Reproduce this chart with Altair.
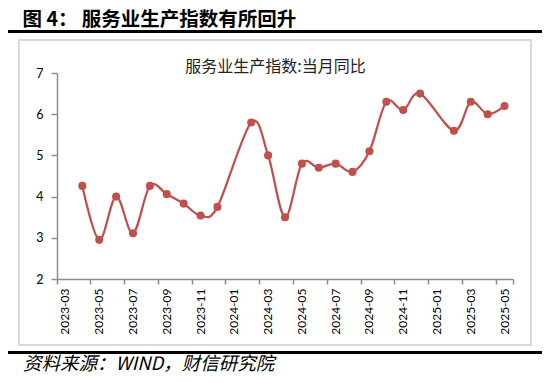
import altair as alt
import pandas as pd

# ---- data ----
all_months = [
    "2023-03", "2023-04", "2023-05", "2023-06", "2023-07", "2023-08", "2023-09",
    "2023-10", "2023-11", "2023-12", "2024-01", "2024-02", "2024-03", "2024-04",
    "2024-05", "2024-06", "2024-07", "2024-08", "2024-09", "2024-10", "2024-11",
    "2024-12", "2025-01", "2025-02", "2025-03", "2025-04", "2025-05",
]
obs_months = [
    "2023-04", "2023-05", "2023-06", "2023-07", "2023-08", "2023-09", "2023-10",
    "2023-11", "2023-12", "2024-02", "2024-03", "2024-04", "2024-05", "2024-06",
    "2024-07", "2024-08", "2024-09", "2024-10", "2024-11", "2024-12", "2025-02",
    "2025-03", "2025-04", "2025-05",
]
obs_values = [
    4.26, 2.95, 4.0, 3.11, 4.26, 4.06, 3.83,
    3.54, 3.75, 5.8, 5.0, 3.5, 4.8, 4.7,
    4.8, 4.6, 5.1, 6.3, 6.1, 6.5, 5.6,
    6.3, 6.0, 6.2,
]
label_months = all_months[::2]
y_ticks = [2, 3, 4, 5, 6, 7]

fig_title = "图 4： 服务业生产指数有所回升"
chart_title = "服务业生产指数:当月同比"
source_text = "资料来源：WIND，财信研究院"

RED = "#C0504D"
AXIS_GRAY = "#8C8C8C"
CJK = "Noto Sans CJK SC"
NUM = "Lato"

df = pd.DataFrame({"month": obs_months, "value": obs_values})
one = pd.DataFrame({"k": [0]})

xscale = alt.Scale(domain=all_months, type="band", paddingInner=0, paddingOuter=0)
y_enc = alt.Y(
    "value:Q",
    scale=alt.Scale(domain=[2, 7], nice=False, zero=False),
    axis=alt.Axis(
        values=y_ticks, title=None, grid=False, domainColor=AXIS_GRAY, domainWidth=1.5,
        tickColor=AXIS_GRAY, tickWidth=1.5, tickSize=6, labelPadding=8,
        labelFont=NUM, labelFontSize=12.5, labelColor="#000000",
    ),
)

line = alt.Chart(df).mark_line(
    color=RED, strokeWidth=2.25, interpolate="cardinal"
).encode(
    x=alt.X(
        "month:O", scale=xscale, bandPosition=0.5, sort=all_months,
        axis=alt.Axis(
            values=label_months, title=None, ticks=False, grid=False,
            domainColor=AXIS_GRAY, domainWidth=1.5, labelAngle=270,
            labelPadding=9, labelFont=NUM, labelFontSize=12, labelColor="#000000",
            orient="bottom",
        ),
    ),
    y=y_enc,
)

pts = alt.Chart(df).mark_circle(color=RED, size=65, opacity=1).encode(
    x=alt.X(
        "month:O", scale=xscale, bandPosition=0.5, sort=all_months,
        axis=alt.Axis(
            values=label_months, title=None, labels=False, domain=False, grid=False,
            ticks=True, tickColor=AXIS_GRAY, tickWidth=1.5, tickSize=5,
            bandPosition=0, orient="bottom",
        ),
    ),
    y=y_enc,
)

end_tick = alt.Chart(df).mark_circle(opacity=0).encode(
    x=alt.X(
        "month:O", scale=xscale, bandPosition=0.5, sort=all_months,
        axis=alt.Axis(
            values=[all_months[-1]], title=None, labels=False, domain=False, grid=False,
            ticks=True, tickColor=AXIS_GRAY, tickWidth=1.5, tickSize=5,
            bandPosition=1, orient="bottom",
        ),
    ),
    y=y_enc,
)

# decorations (positions relative to plot area origin)
frame = alt.Chart(one).mark_rect(fill=None, stroke="#D9D9D9", strokeWidth=2).encode(
    x=alt.value(-38), x2=alt.value(474), y=alt.value(-33), y2=alt.value(272)
)
top_rule = alt.Chart(one).mark_rule(color="#000000", strokeWidth=3).encode(
    x=alt.value(-49), x2=alt.value(487), y=alt.value(-41.5)
)
bot_rule = alt.Chart(one).mark_rule(color="#000000", strokeWidth=3).encode(
    x=alt.value(-49), x2=alt.value(487), y=alt.value(279.5)
)
title_txt = alt.Chart(one).mark_text(
    align="left", baseline="alphabetic", font=CJK, fontSize=19.5, fontWeight="bold", color="#000000"
).encode(x=alt.value(-34.5), y=alt.value(-47.5), text=alt.value(fig_title))
inner_title = alt.Chart(one).mark_text(
    align="center", baseline="middle", font=CJK, fontSize=16, color="#222222"
).encode(x=alt.value(218.5), y=alt.value(-6.5), text=alt.value(chart_title))
source = alt.Chart(one).mark_text(
    align="left", baseline="alphabetic", font=CJK, fontSize=18.5, fontStyle="italic", color="#000000"
).encode(x=alt.value(-34), y=alt.value(297), text=alt.value(source_text))

chart = alt.layer(
    frame, top_rule, bot_rule, title_txt, inner_title, source, line, pts, end_tick
).resolve_axis(x="independent").resolve_scale(x="shared").properties(
    width=456, height=206,
    autosize=alt.AutoSizeParams(type="none"),
    padding={"left": 49, "top": 65, "right": 29, "bottom": 95},
    background="#FFFFFF",
).configure_view(stroke=None)

chart.save("out.html", embed_options={"renderer": "svg", "actions": False})
